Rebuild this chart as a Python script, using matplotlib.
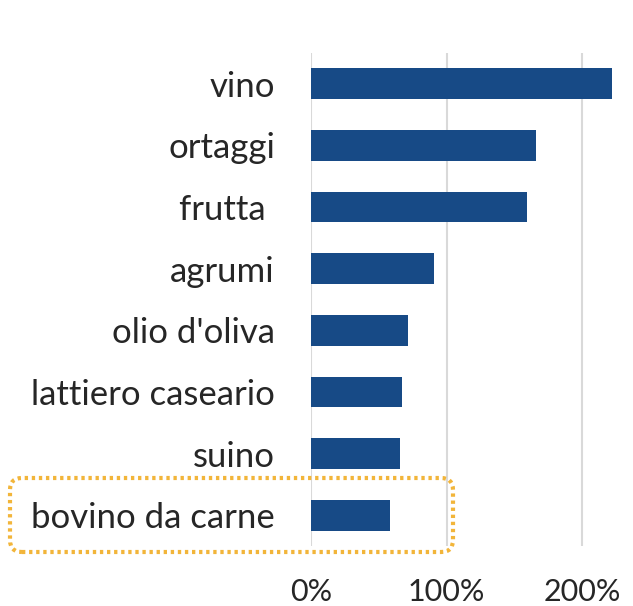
import matplotlib
matplotlib.use("Agg")
import matplotlib.pyplot as plt
from matplotlib.patches import FancyBboxPatch
from matplotlib.ticker import FuncFormatter

categories = ["vino", "ortaggi", "frutta ", "agrumi", "olio d'oliva",
              "lattiero caseario", "suino", "bovino da carne"]
values = [2.22, 1.66, 1.595, 0.91, 0.718, 0.674, 0.659, 0.583]
xticks = [0, 1, 2]

BAR = "#174A86"; GRID = "#D9D9D9"; TXT = "#262626"; BOX = "#F2B53A"

plt.rcParams["font.family"] = ["Lato", "DejaVu Sans"]

fig = plt.figure(figsize=(6.33, 6.06), dpi=100)
ax = fig.add_axes([0.4913, 0.099, 0.4924, 0.8135])

ypos = list(range(len(categories)))[::-1]
ax.barh(ypos, values, height=0.5, color=BAR, zorder=3)
ax.set_ylim(-0.5, len(categories) - 0.5)
ax.set_xlim(0, 2.3)
ax.set_yticks(ypos)
ax.set_yticklabels(categories, fontsize=25, color=TXT)
ax.set_xticks(xticks)
ax.xaxis.set_major_formatter(FuncFormatter(lambda v, p: f"{v*100:.0f}%"))
ax.tick_params(axis="x", labelsize=22, labelcolor=TXT, length=0, pad=23)
ax.tick_params(axis="y", length=0, pad=26)
ax.grid(axis="x", color=GRID, lw=1.5, zorder=0)
ax.grid(axis="y", visible=False)
for s in ax.spines.values():
    s.set_visible(False)

# dotted highlight round the last row
box = FancyBboxPatch((0.10, 0.54), 4.43, 0.74, boxstyle="round,pad=0,rounding_size=0.12",
                     transform=fig.dpi_scale_trans, fill=False, ec=BOX, lw=3,
                     ls=(0, (0.8, 0.9)), clip_on=False)
fig.patches.append(box)

fig.savefig("out.png", dpi=100)
